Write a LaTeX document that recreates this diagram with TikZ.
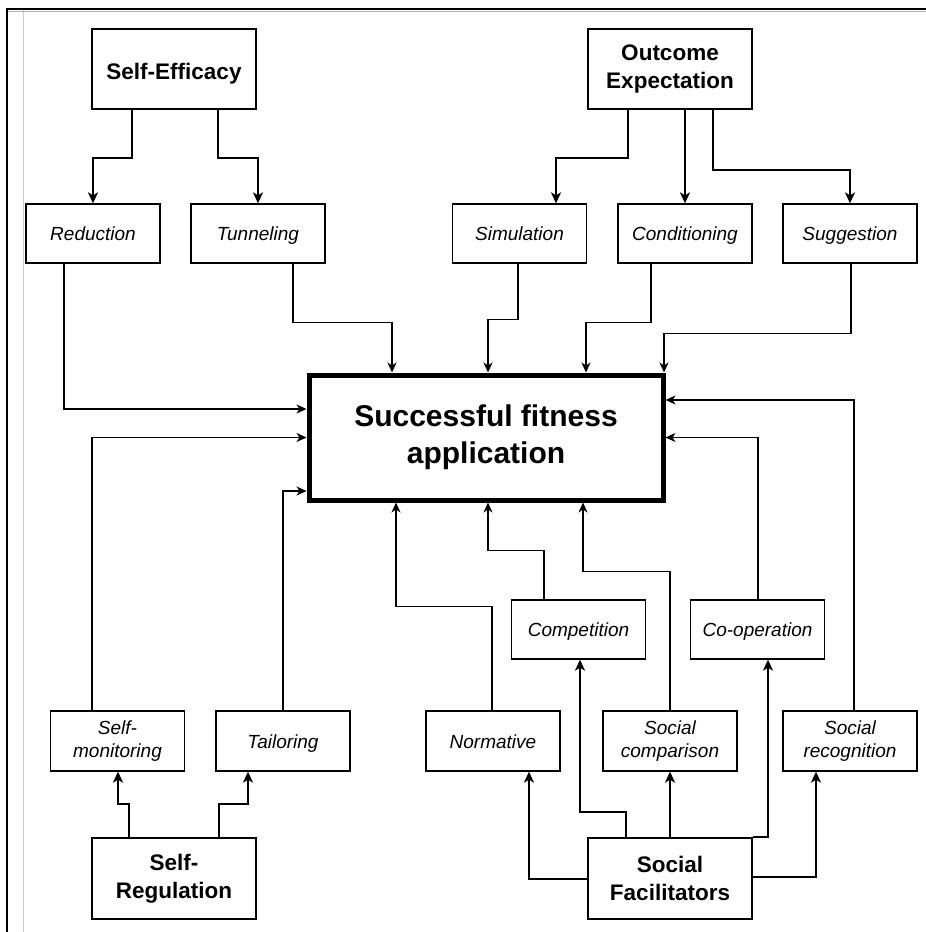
\documentclass[tikz,border=0pt]{standalone}
\usepackage{fontspec}
\setmainfont{Liberation Sans}
\usetikzlibrary{arrows.meta}
\begin{document}
\begin{tikzpicture}[x=1pt,y=-1pt,
  box/.style={draw=black, line width=1.3pt, inner sep=0pt, align=center},
  bigbox/.style={box, minimum width=164pt, minimum height=80pt, font=\fontsize{22.5}{28}\selectfont\bfseries},
  subbox/.style={box, minimum width=134pt, minimum height=59pt, font=\fontsize{19}{23}\selectfont\itshape},
  onebox/.style={subbox, text height=15.5pt, text depth=1.5pt},
  mainbox/.style={draw=black, line width=5pt, inner sep=0pt, align=center, minimum width=354pt, minimum height=125pt, font=\fontsize{30}{37}\selectfont\bfseries},
  thinarr/.style={line width=1.2pt, -{Stealth[length=10pt,width=9pt,inset=3pt]}},
  thickarr/.style={line width=1.8pt, -{Stealth[length=11pt,width=10pt,inset=3pt]}}
]
\useasboundingbox (0,0) rectangle (926,932);
% frame
\draw[gray!40, line width=0.8pt] (23,10) -- (23,932);
\draw[black!30, line width=1pt] (8,11) -- (926,11);
\draw[black, line width=2pt] (7,932) -- (7,9) -- (926,9);

% nodes
\node[bigbox, text height=21pt, text depth=0pt] (se) at (174,69) {Self-Efficacy};
\node[bigbox] (oe) at (670,69) {Outcome\\Expectation};
\node[onebox] (red) at (93,233.5) {Reduction};
\node[onebox] (tun) at (258,233.5) {Tunneling};
\node[onebox] (sim) at (519.5,233.5) {Simulation};
\node[onebox] (con) at (685,233.5) {Conditioning};
\node[onebox] (sug) at (850,233.5) {Suggestion};
\node[mainbox] (main) at (486,437.5) {Successful fitness\\application};
\node[onebox] (comp) at (578.5,629.5) {Competition};
\node[onebox] (coop) at (757.5,629.5) {Co-operation};
\node[subbox, minimum height=60pt] (smon) at (117.5,741) {Self-\\monitoring};
\node[onebox, minimum height=60pt] (tail) at (283,741) {Tailoring};
\node[onebox, minimum height=60pt] (norm) at (493,741) {Normative};
\node[subbox, minimum height=60pt] (scmp) at (670,741) {Social\\comparison};
\node[subbox, minimum height=60pt] (srec) at (850,741) {Social\\recognition};
\node[bigbox, minimum height=81pt] (sreg) at (174,878.5) {Self-\\Regulation};
\node[bigbox, minimum height=81pt] (sf) at (670,878.5) {Social\\Facilitators};

% top thick arrows
\draw[thickarr] ([xshift=-42pt]se.south) -- ++(0,48) -| (red.north);
\draw[thickarr] ([xshift=44pt]se.south) -- ++(0,48) -| (tun.north);
\draw[thickarr] ([xshift=-42pt]oe.south) -- ++(0,48) -| ([xshift=36.5pt]sim.north);
\draw[thickarr] ([xshift=15pt]oe.south) -- (con.north);
\draw[thickarr] ([xshift=43pt]oe.south) -- ++(0,60) -| (sug.north);

% into main from top
\draw[thinarr] ([xshift=-29pt]red.south) |- ([yshift=28.5pt]main.west);
\draw[thinarr] ([xshift=35pt]tun.south) -- ++(0,59) -| ([xshift=-94pt]main.north);
\draw[thinarr] ([xshift=-1.5pt]sim.south) -- ++(0,56) -| ([xshift=2pt]main.north);
\draw[thinarr] ([xshift=-34pt]con.south) -- ++(0,59) -| ([xshift=100pt]main.north);
\draw[thinarr] ([xshift=1pt]sug.south) -- ++(0,70) -| ([xshift=178pt]main.north);

% into main from bottom
\draw[thinarr] ([xshift=-25.5pt]smon.north) |- (main.west);
\draw[thinarr] (tail.north) |- ([yshift=-53.5pt]main.west);
\draw[thinarr] ([xshift=-1pt]norm.north) -- ++(0,-104) -| ([xshift=-90pt]main.south);
\draw[thinarr] ([xshift=-34.5pt]comp.north) -- ++(0,-49) -| ([xshift=2pt]main.south);
\draw[thinarr] (scmp.north) -- ++(0,-139) -| ([xshift=97pt]main.south);
\draw[thinarr] ([xshift=0.5pt]coop.north) |- (main.east);
\draw[thinarr] ([xshift=4pt]srec.north) |- ([yshift=37.5pt]main.east);

% bottom thick arrows
\draw[thickarr] ([xshift=-45pt]sreg.north) -- ++(0,-33) -| ([xshift=0.5pt]smon.south);
\draw[thickarr] ([xshift=45pt]sreg.north) -- ++(0,-33) -| ([xshift=-35pt]tail.south);
\draw[thickarr] ([yshift=-0.5pt]sf.west) -| ([xshift=36pt]norm.south);
\draw[thickarr] ([xshift=-44pt]sf.north) -- ++(0,-25) -| ([xshift=1.5pt]comp.south);
\draw[thickarr] (sf.north) -- (scmp.south);
\draw[thickarr] (sf.north east) -| ([xshift=10.5pt]coop.south);
\draw[thickarr] ([yshift=1.5pt]sf.east) -| ([xshift=-34pt]srec.south);
\end{tikzpicture}
\end{document}
